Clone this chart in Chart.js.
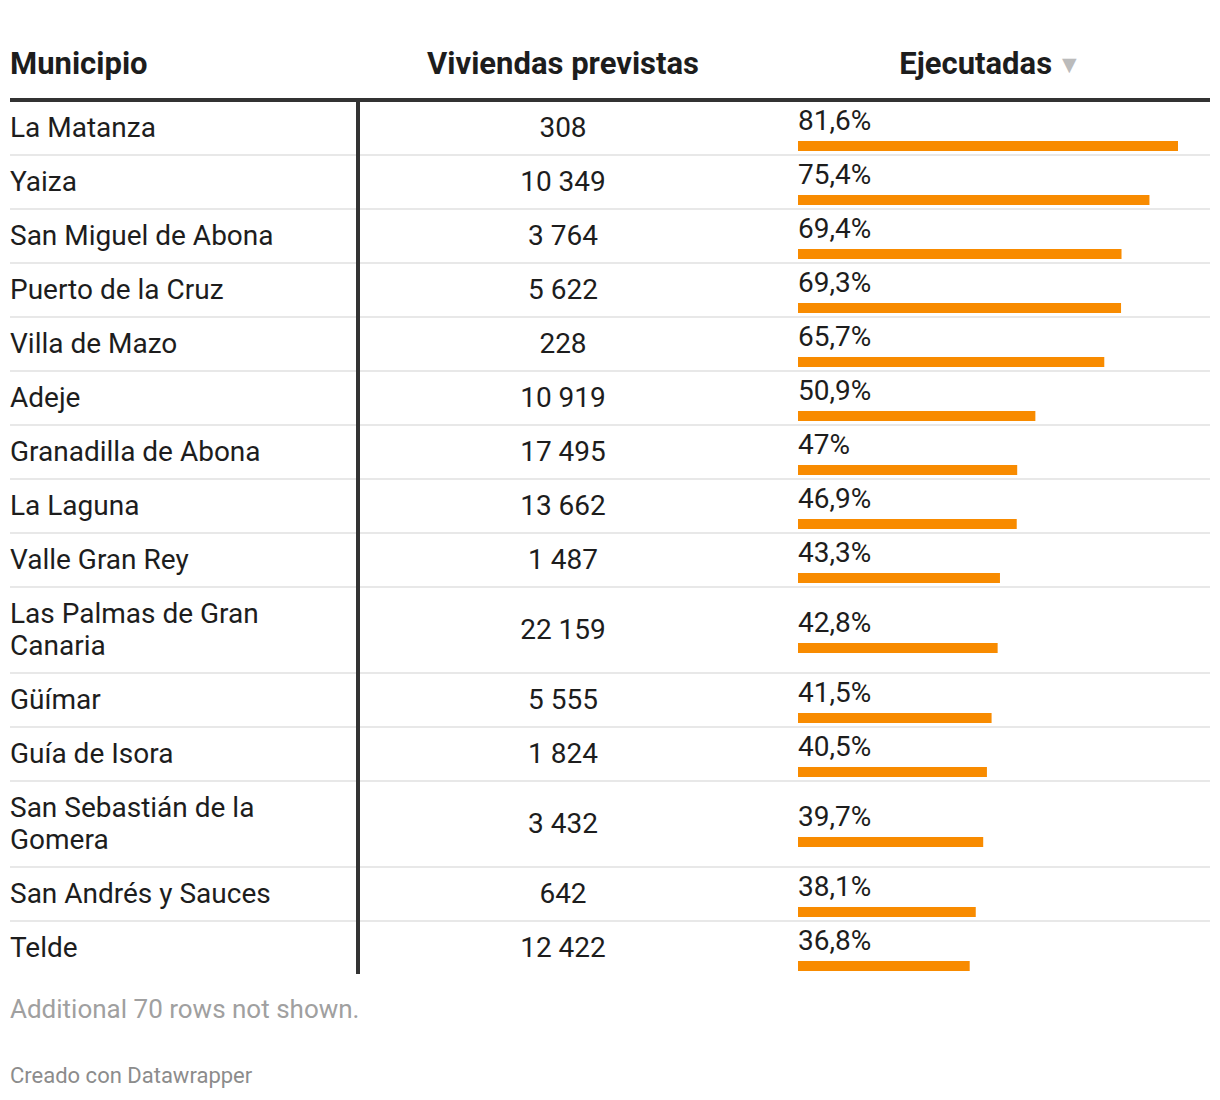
<!DOCTYPE html>
<html lang="es">
<head>
<meta charset="utf-8">
<script src="https://cdn.jsdelivr.net/npm/chart.js@4.4.1/dist/chart.umd.min.js"></script>
<style>
  html, body { margin: 0; padding: 0; background: #ffffff; }
  body { width: 1220px; height: 1100px; position: relative; font-family: Roboto, "Noto Sans", sans-serif; color: #1d1d1d; }
  #wrap { position: absolute; left: 10px; top: 0; width: 1200px; }
  .head { display: flex; height: 98px; border-bottom: 4px solid #333333; align-items: flex-end; font-weight: 700; font-size: 31px; line-height: 36px; }
  .head > div { padding-bottom: 16px; }
  .c1 { width: 346px; box-sizing: border-box; }
  .c2 { width: 410px; box-sizing: border-box; padding-left: 4px; text-align: center; }
  .c3 { width: 444px; box-sizing: border-box; }
  .head .c3 { text-align: center; }
  .tri { color: #bbbbbb; font-size: 19px; font-family: "DejaVu Sans", sans-serif; vertical-align: 3px; margin-left: 10px; }
  #tbody { position: relative; }
  #vline { position: absolute; left: 346px; top: 0; bottom: 0; width: 4px; background: #333333; z-index: 2; }
  .row { display: flex; align-items: center; border-bottom: 2px solid #e8e8e8; font-size: 28px; line-height: 32px; }
  .row:last-child { border-bottom: none; }
  .row .c1 { padding: 10px 40px 10px 0; }
  .row .c3 { padding-left: 32px; }
  .pct { line-height: 32px; height: 32px; }
  .bar { margin-top: 4px; height: 10px; width: 380px; }
  .bar canvas { display: block; }
  #note { position: absolute; left: 10px; top: 994px; font-size: 26px; line-height: 30px; color: #a0a0a0; }
  #credit { position: absolute; left: 10px; top: 1063px; font-size: 22px; line-height: 26px; color: #8c8c8c; }
</style>
</head>
<body>
<div id="wrap">
  <div class="head">
    <div class="c1">Municipio</div>
    <div class="c2">Viviendas previstas</div>
    <div class="c3">Ejecutadas<span class="tri">▼</span></div>
  </div>
  <div id="tbody"><div id="vline"></div></div>
</div>
<div id="note">Additional 70 rows not shown.</div>
<div id="credit">Creado con Datawrapper</div>

<script>
const municipios = ["La Matanza", "Yaiza", "San Miguel de Abona", "Puerto de la Cruz", "Villa de Mazo", "Adeje", "Granadilla de Abona", "La Laguna", "Valle Gran Rey", "Las Palmas de Gran Canaria", "Güímar", "Guía de Isora", "San Sebastián de la Gomera", "San Andrés y Sauces", "Telde"];
const viviendasPrevistas = [308, 10349, 3764, 5622, 228, 10919, 17495, 13662, 1487, 22159, 5555, 1824, 3432, 642, 12422];
const ejecutadas = [81.6, 75.4, 69.4, 69.3, 65.7, 50.9, 47, 46.9, 43.3, 42.8, 41.5, 40.5, 39.7, 38.1, 36.8];

const barColor = "#f88b00";
const maxEjecutadas = Math.max(...ejecutadas);

function fmtInt(n) { return String(n).replace(/\B(?=(\d{3})+(?!\d))/g, " "); }
function fmtPct(v) { return (Number.isInteger(v) ? String(v) : v.toFixed(1).replace(".", ",")) + "%"; }

const tbody = document.getElementById("tbody");
municipios.forEach((name, i) => {
  const row = document.createElement("div");
  row.className = "row";
  const c1 = document.createElement("div"); c1.className = "c1"; c1.textContent = name;
  const c2 = document.createElement("div"); c2.className = "c2"; c2.textContent = fmtInt(viviendasPrevistas[i]);
  const c3 = document.createElement("div"); c3.className = "c3";
  const pct = document.createElement("div"); pct.className = "pct"; pct.textContent = fmtPct(ejecutadas[i]);
  const barWrap = document.createElement("div"); barWrap.className = "bar";
  const cv = document.createElement("canvas"); cv.width = 380; cv.height = 10;
  cv.style.width = "380px"; cv.style.height = "10px";
  barWrap.appendChild(cv);
  c3.appendChild(pct); c3.appendChild(barWrap);
  row.appendChild(c1); row.appendChild(c2); row.appendChild(c3);
  tbody.appendChild(row);

  new Chart(cv, {
    type: "bar",
    data: {
      labels: [name],
      datasets: [{ data: [ejecutadas[i]], backgroundColor: barColor, borderWidth: 0, barPercentage: 1, categoryPercentage: 1 }]
    },
    options: {
      indexAxis: "y",
      responsive: false,
      animation: false,
      devicePixelRatio: 1,
      layout: { padding: 0 },
      plugins: { legend: { display: false }, tooltip: { enabled: false } },
      scales: {
        x: { display: false, min: 0, max: maxEjecutadas, grid: { display: false } },
        y: { display: false, grid: { display: false } }
      }
    }
  });
});
</script>
</body>
</html>
